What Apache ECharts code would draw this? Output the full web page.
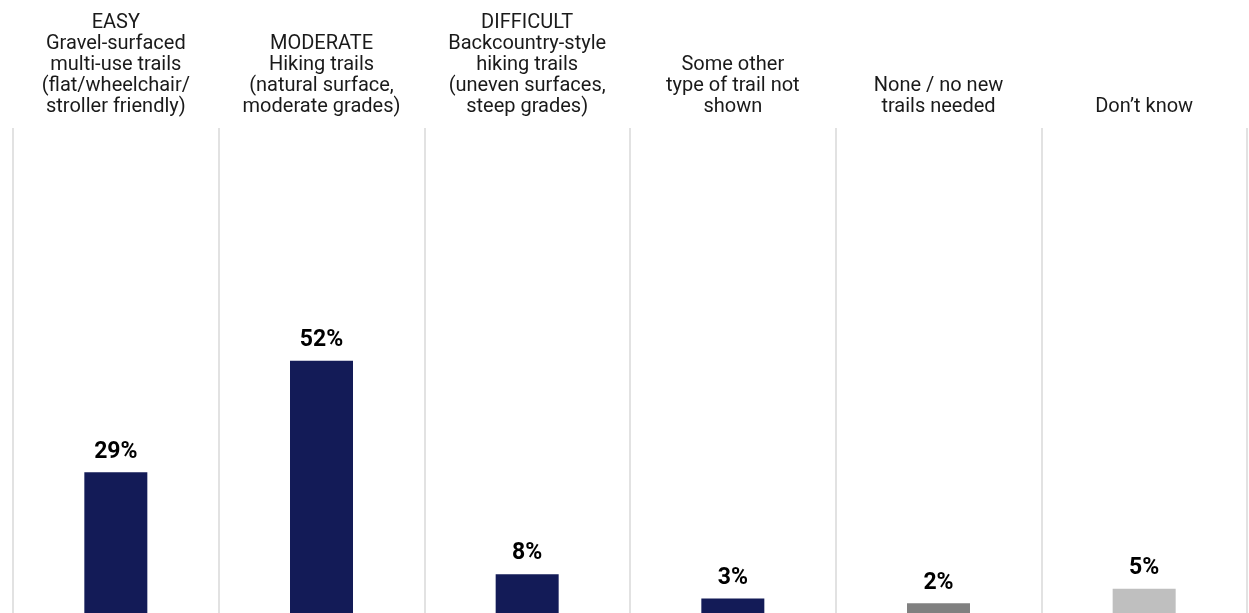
<!DOCTYPE html>
<html>
<head>
<meta charset="utf-8">
<script src="https://cdn.jsdelivr.net/npm/echarts@6/dist/echarts.min.js"></script>
<style>
  html, body { margin: 0; padding: 0; background: #fff; }
  #chart { width: 1249px; height: 613px; }
</style>
</head>
<body>
<div id="chart"></div>
<script>
const categories = [
  "EASY\nGravel-surfaced\nmulti-use trails\n(flat/wheelchair/\nstroller friendly)",
  "MODERATE\nHiking trails\n(natural surface,\nmoderate grades)",
  "DIFFICULT\nBackcountry-style\nhiking trails\n(uneven surfaces,\nsteep grades)",
  "Some other\ntype of trail not\nshown",
  "None / no new\ntrails needed",
  "Don\u2019t know"
];
const values = [29, 52, 8, 3, 2, 5];
const barColors = ["#131b57", "#131b57", "#131b57", "#131b57", "#808080", "#bfbfbf"];

const chart = echarts.init(document.getElementById('chart'));
chart.setOption({
  animation: false,
  backgroundColor: '#ffffff',
  grid: { left: 13, right: 2, top: 128, bottom: -1, containLabel: false },
  xAxis: {
    type: 'category',
    position: 'top',
    data: categories,
    boundaryGap: true,
    axisLine: { show: false },
    axisTick: { show: false },
    splitLine: { show: true, lineStyle: { color: '#d9d9d9', width: 1.5 } },
    axisLabel: {
      interval: 0,
      margin: 11,
      color: '#1a1a1a',
      fontFamily: 'Roboto',
      fontSize: 20,
      lineHeight: 21,
      align: 'center'
    }
  },
  yAxis: {
    type: 'value',
    min: 0,
    max: 100,
    show: false,
    splitLine: { show: false }
  },
  series: [{
    type: 'bar',
    data: values.map((v, i) => ({ value: v, itemStyle: { color: barColors[i] } })),
    barWidth: 63,
    label: {
      show: true,
      position: 'top',
      distance: 9,
      formatter: '{c}%',
      color: '#000',
      fontFamily: 'Roboto',
      fontWeight: 'bold',
      fontSize: 23
    }
  }]
});
</script>
</body>
</html>
